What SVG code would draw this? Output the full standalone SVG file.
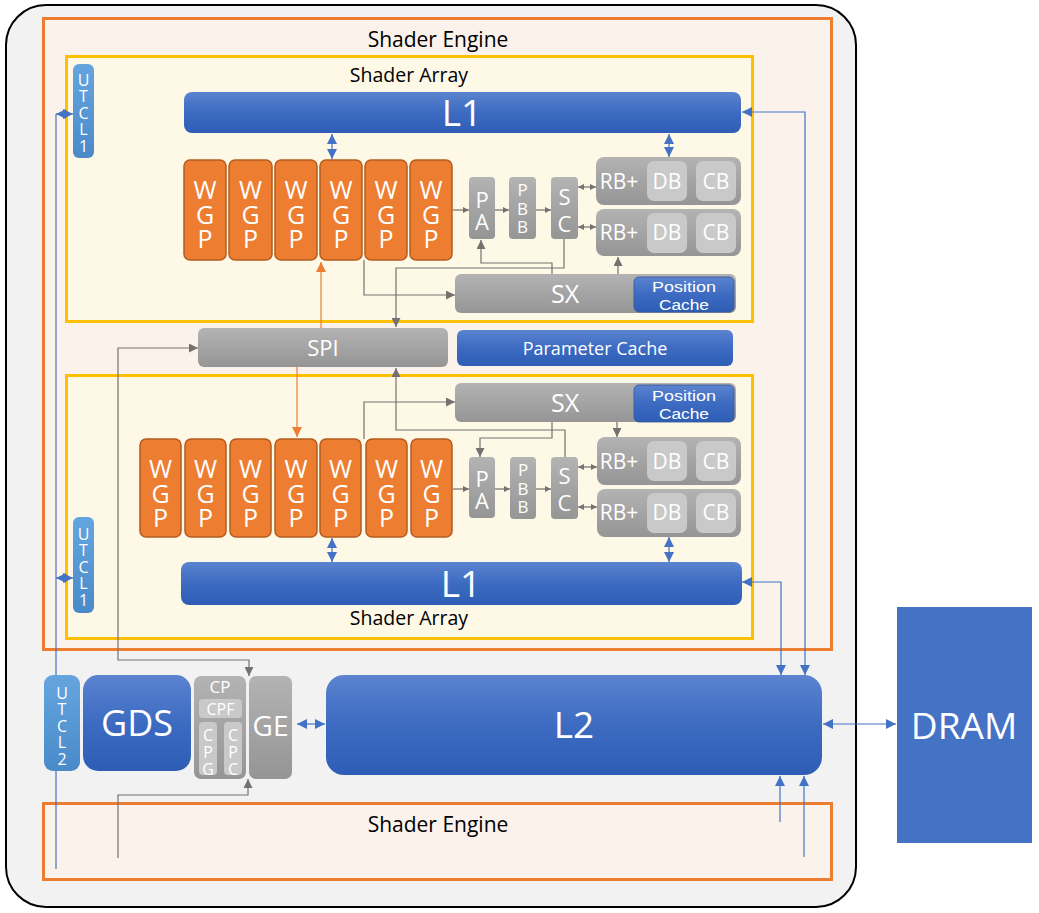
<svg xmlns="http://www.w3.org/2000/svg" width="1039" height="913" viewBox="0 0 1039 913">
<style>
text{font-family:"Open Sans","Noto Sans","Liberation Sans",sans-serif;text-anchor:middle}
.w{fill:#fff}
.k{fill:#000}
.v{writing-mode:vertical-rl;text-orientation:upright}
.blue{fill:url(#gBlue)}
.gray{fill:url(#gGray)}
.utcl{fill:url(#gUtcl)}
.wgp{fill:#ed7d31;stroke:#b35c1e;stroke-width:1.5}
.inner{fill:#c9c9c9}
.cg{fill:none;stroke:#767171;stroke-width:1.2}
.cb{fill:none;stroke:#4472c4;stroke-width:1.2}
.co{fill:none;stroke:#ed7d31;stroke-width:1.2}
.wg{font-size:25px;letter-spacing:-9.5px}
text.pc{font-family:"Liberation Sans",Arial,sans-serif;font-size:15.5px}
</style>
<defs>
<linearGradient id="gBlue" x1="0" y1="0" x2="0" y2="1"><stop offset="0" stop-color="#5b83cf"/><stop offset="0.5" stop-color="#3d6bc2"/><stop offset="1" stop-color="#2e5db5"/></linearGradient>
<linearGradient id="gGray" x1="0" y1="0" x2="0" y2="1"><stop offset="0" stop-color="#b3b3b3"/><stop offset="1" stop-color="#959595"/></linearGradient>
<linearGradient id="gUtcl" x1="0" y1="0" x2="0" y2="1"><stop offset="0" stop-color="#65a5df"/><stop offset="1" stop-color="#4a8ac9"/></linearGradient>
<marker id="ag" viewBox="0 0 10 10" refX="10" refY="5" markerWidth="9" markerHeight="9" markerUnits="userSpaceOnUse" orient="auto-start-reverse"><path d="M0,0 L10,5 L0,10 z" fill="#767171"/></marker>
<marker id="ags" viewBox="0 0 10 10" refX="10" refY="5" markerWidth="6" markerHeight="6" markerUnits="userSpaceOnUse" orient="auto-start-reverse"><path d="M0,0 L10,5 L0,10 z" fill="#767171"/></marker>
<marker id="ab" viewBox="0 0 10 10" refX="10" refY="5" markerWidth="10" markerHeight="10" markerUnits="userSpaceOnUse" orient="auto-start-reverse"><path d="M0,0 L10,5 L0,10 z" fill="#4472c4"/></marker>
<marker id="ao" viewBox="0 0 10 10" refX="10" refY="5" markerWidth="10" markerHeight="10" markerUnits="userSpaceOnUse" orient="auto-start-reverse"><path d="M0,0 L10,5 L0,10 z" fill="#ed7d31"/></marker>
</defs>

<g id="background">
<rect x="6" y="5" width="850" height="902" rx="40" fill="#f2f2f2" stroke="#000" stroke-width="2"/>
</g>

<g id="shader-engine-top">
<rect x="43.5" y="18.5" width="788" height="631" fill="#fbf2ec" stroke="#ed7d31" stroke-width="3"/>
<text x="438" y="47" font-size="21" class="k">Shader Engine</text>
</g>
<g id="shader-array-top">
<rect x="66.5" y="56.5" width="686" height="265" fill="#fef8e7" stroke="#ffc000" stroke-width="3"/>
<text x="409" y="82" font-size="19.5" class="k">Shader Array</text>
</g>
<g id="shader-array-bottom">
<rect x="66.5" y="375.5" width="686" height="263" fill="#fef8e7" stroke="#ffc000" stroke-width="3"/>
<text x="409" y="625" font-size="19.5" class="k">Shader Array</text>
</g>
<g id="shader-engine-bottom">
<rect x="43.5" y="803.5" width="788" height="76" fill="#fbf2ec" stroke="#ed7d31" stroke-width="3"/>
<text x="438" y="832" font-size="21" class="k">Shader Engine</text>
</g>

<g id="connectors">
<path class="cg" d="M453,210 H469" marker-end="url(#ags)"/>
<path class="cg" d="M495,210 H509" marker-end="url(#ags)"/>
<path class="cg" d="M536,210 H551" marker-end="url(#ags)"/>
<path class="cg" d="M578,187 H596" marker-start="url(#ags)" marker-end="url(#ags)"/>
<path class="cg" d="M578,227 H596" marker-start="url(#ags)" marker-end="url(#ags)"/>
<path class="cg" d="M552,274 V263 H481 V240" marker-end="url(#ag)"/>
<path class="cg" d="M564,239 V268 H396 V327" marker-end="url(#ag)"/>
<path class="cg" d="M364,260 V295 H455" marker-end="url(#ag)"/>
<path class="cg" d="M618,274 V257" marker-end="url(#ag)"/>
<path class="cg" d="M453,489 H469" marker-end="url(#ags)"/>
<path class="cg" d="M495,489 H510" marker-end="url(#ags)"/>
<path class="cg" d="M536,489 H551" marker-end="url(#ags)"/>
<path class="cg" d="M578,467 H597" marker-start="url(#ags)" marker-end="url(#ags)"/>
<path class="cg" d="M578,507 H597" marker-start="url(#ags)" marker-end="url(#ags)"/>
<path class="cg" d="M552,422 V438 H480 V457" marker-end="url(#ag)"/>
<path class="cg" d="M565,457 V430 H396 V368" marker-end="url(#ag)"/>
<path class="cg" d="M364,439 V402 H455" marker-end="url(#ag)"/>
<path class="cg" d="M617,422 V437" marker-end="url(#ag)"/>
<path class="cg" d="M198,348 H118 V660 H249 V676" marker-start="url(#ag)" marker-end="url(#ag)"/>
<path class="cg" d="M118,858 V795 H248 V779" marker-end="url(#ag)"/>
<path class="co" d="M321,328 V262" marker-end="url(#ao)"/>
<path class="co" d="M297,367 V437" marker-end="url(#ao)"/>
<path class="cb" d="M332,134 V159" marker-start="url(#ab)" marker-end="url(#ab)"/>
<path class="cb" d="M669,134 V157" marker-start="url(#ab)" marker-end="url(#ab)"/>
<path class="cb" d="M332,538 V562" marker-start="url(#ab)" marker-end="url(#ab)"/>
<path class="cb" d="M669,537 V562" marker-start="url(#ab)" marker-end="url(#ab)"/>
<path class="cb" d="M56,114 H73" marker-start="url(#ab)" marker-end="url(#ab)"/>
<path class="cb" d="M56,578 H73" marker-start="url(#ab)" marker-end="url(#ab)"/>
<path class="cb" d="M56,114 V869"/>
<path class="cb" d="M742,112 H805 V675" marker-start="url(#ab)" marker-end="url(#ab)"/>
<path class="cb" d="M742,582 H781 V675" marker-start="url(#ab)" marker-end="url(#ab)"/>
<path class="cb" d="M780,822 V776" marker-end="url(#ab)"/>
<path class="cb" d="M804,857 V776" marker-end="url(#ab)"/>
<path class="cb" d="M297,724 H325" marker-start="url(#ab)" marker-end="url(#ab)"/>
<path class="cb" d="M823,724 H896" marker-start="url(#ab)" marker-end="url(#ab)"/>
</g>

<g id="utcl1-top">
<rect x="73" y="64" width="21" height="94" rx="6" class="utcl"/>
<text x="83.5" y="110" class="w v" font-size="16" letter-spacing="-5.6">UTCL1</text>
</g>
<g id="l1-top">
<rect x="184" y="92" width="557" height="41" rx="8" class="blue"/>
<text x="462" y="126" font-size="37" class="w">L1</text>
</g>
<g id="wgp-top">
<rect x="184" y="160" width="42" height="100" rx="6" class="wgp"/>
<rect x="229" y="160" width="43" height="100" rx="6" class="wgp"/>
<rect x="275" y="160" width="42" height="100" rx="6" class="wgp"/>
<rect x="320" y="160" width="42" height="100" rx="6" class="wgp"/>
<rect x="365" y="160" width="42" height="100" rx="6" class="wgp"/>
<rect x="410" y="160" width="42" height="100" rx="6" class="wgp"/>
<text x="205" y="209" class="w v wg">WGP</text>
<text x="250.5" y="209" class="w v wg">WGP</text>
<text x="296" y="209" class="w v wg">WGP</text>
<text x="341" y="209" class="w v wg">WGP</text>
<text x="386" y="209" class="w v wg">WGP</text>
<text x="431" y="209" class="w v wg">WGP</text>
</g>
<g id="pa-top">
<rect x="469" y="177" width="26" height="62" rx="4" class="gray"/>
<text x="482" y="206" class="w v" font-size="22" letter-spacing="-7.5">PA</text>
</g>
<g id="pbb-top">
<rect x="509" y="177" width="27" height="62" rx="4" class="gray"/>
<text x="522.5" y="206" class="w v" font-size="17" letter-spacing="-4.2">PBB</text>
</g>
<g id="sc-top">
<rect x="551" y="177" width="27" height="62" rx="4" class="gray"/>
<text x="564.5" y="208" class="w v" font-size="22" letter-spacing="-3.3">SC</text>
</g>
<g id="rb-top-1">
<rect x="596" y="157" width="145" height="48" rx="8" class="gray"/>
<rect x="647" y="161" width="40" height="40" rx="7" class="inner"/>
<rect x="696" y="161" width="40" height="40" rx="7" class="inner"/>
<text x="619" y="189" font-size="21" class="w">RB+</text>
<text x="667" y="189" font-size="21" class="w">DB</text>
<text x="716" y="189" font-size="21" class="w">CB</text>
</g>
<g id="rb-top-2">
<rect x="596" y="209" width="145" height="47" rx="8" class="gray"/>
<rect x="647" y="213" width="40" height="40" rx="7" class="inner"/>
<rect x="696" y="213" width="40" height="40" rx="7" class="inner"/>
<text x="619" y="240" font-size="21" class="w">RB+</text>
<text x="667" y="240" font-size="21" class="w">DB</text>
<text x="716" y="240" font-size="21" class="w">CB</text>
</g>
<g id="sx-top">
<rect x="455" y="274" width="281" height="39" rx="6" class="gray"/>
<rect x="634" y="277" width="100" height="35" rx="5" class="blue" stroke="#2f5597" stroke-width="0.8"/>
<text x="565" y="303" font-size="25" class="w">SX</text>
<text x="684" y="292" class="w pc" textLength="64" lengthAdjust="spacingAndGlyphs">Position</text>
<text x="684" y="309.5" class="w pc" textLength="50" lengthAdjust="spacingAndGlyphs">Cache</text>
</g>

<g id="spi">
<rect x="198" y="328" width="250" height="39" rx="6" class="gray"/>
<text x="323" y="356" font-size="22" class="w">SPI</text>
</g>
<g id="parameter-cache">
<rect x="457" y="330" width="276" height="36" rx="6" class="blue"/>
<text x="595" y="355" font-size="18" class="w">Parameter Cache</text>
</g>

<g id="sx-bottom">
<rect x="455" y="383" width="281" height="39" rx="6" class="gray"/>
<rect x="634" y="385" width="100" height="37" rx="5" class="blue" stroke="#2f5597" stroke-width="0.8"/>
<text x="565" y="412" font-size="25" class="w">SX</text>
<text x="684" y="401" class="w pc" textLength="64" lengthAdjust="spacingAndGlyphs">Position</text>
<text x="684" y="418.5" class="w pc" textLength="50" lengthAdjust="spacingAndGlyphs">Cache</text>
</g>
<g id="wgp-bottom">
<rect x="140" y="439" width="41" height="98" rx="6" class="wgp"/>
<rect x="185" y="439" width="41" height="98" rx="6" class="wgp"/>
<rect x="230" y="439" width="41" height="98" rx="6" class="wgp"/>
<rect x="275" y="439" width="42" height="98" rx="6" class="wgp"/>
<rect x="320" y="439" width="41" height="98" rx="6" class="wgp"/>
<rect x="366" y="439" width="41" height="98" rx="6" class="wgp"/>
<rect x="411" y="439" width="41" height="98" rx="6" class="wgp"/>
<text x="160.5" y="488" class="w v wg">WGP</text>
<text x="205.5" y="488" class="w v wg">WGP</text>
<text x="250.5" y="488" class="w v wg">WGP</text>
<text x="296" y="488" class="w v wg">WGP</text>
<text x="340.5" y="488" class="w v wg">WGP</text>
<text x="386.5" y="488" class="w v wg">WGP</text>
<text x="431.5" y="488" class="w v wg">WGP</text>
</g>
<g id="pa-bottom">
<rect x="469" y="457" width="26" height="61" rx="4" class="gray"/>
<text x="482" y="485" class="w v" font-size="22" letter-spacing="-7.5">PA</text>
</g>
<g id="pbb-bottom">
<rect x="510" y="457" width="26" height="62" rx="4" class="gray"/>
<text x="523" y="486" class="w v" font-size="17" letter-spacing="-4.2">PBB</text>
</g>
<g id="sc-bottom">
<rect x="551" y="457" width="27" height="62" rx="4" class="gray"/>
<text x="564.5" y="487" class="w v" font-size="22" letter-spacing="-3.3">SC</text>
</g>
<g id="rb-bottom-1">
<rect x="597" y="437" width="144" height="48" rx="8" class="gray"/>
<rect x="647" y="441" width="40" height="40" rx="7" class="inner"/>
<rect x="696" y="441" width="40" height="40" rx="7" class="inner"/>
<text x="619" y="469" font-size="21" class="w">RB+</text>
<text x="667" y="469" font-size="21" class="w">DB</text>
<text x="716" y="469" font-size="21" class="w">CB</text>
</g>
<g id="rb-bottom-2">
<rect x="597" y="489" width="144" height="48" rx="8" class="gray"/>
<rect x="647" y="493" width="40" height="40" rx="7" class="inner"/>
<rect x="696" y="493" width="40" height="40" rx="7" class="inner"/>
<text x="619" y="520" font-size="21" class="w">RB+</text>
<text x="667" y="520" font-size="21" class="w">DB</text>
<text x="716" y="520" font-size="21" class="w">CB</text>
</g>
<g id="utcl1-bottom">
<rect x="73" y="517" width="21" height="96" rx="6" class="utcl"/>
<text x="83.5" y="564" class="w v" font-size="16" letter-spacing="-5.6">UTCL1</text>
</g>
<g id="l1-bottom">
<rect x="181" y="562" width="561" height="43" rx="8" class="blue"/>
<text x="461" y="597" font-size="37" class="w">L1</text>
</g>

<g id="utcl2">
<rect x="44" y="675" width="36" height="96" rx="9" class="utcl"/>
<text x="62" y="723" class="w v" font-size="16" letter-spacing="-5.6">UTCL2</text>
</g>
<g id="gds">
<rect x="83" y="675" width="108" height="96" rx="15" class="blue"/>
<text x="137" y="736" font-size="36" class="w">GDS</text>
</g>
<g id="cp">
<rect x="194" y="676" width="52" height="103" rx="7" class="gray"/>
<rect x="199" y="699" width="43" height="19" rx="4" class="inner"/>
<rect x="199" y="722" width="18" height="53" rx="4" class="inner"/>
<rect x="224" y="722" width="18" height="53" rx="4" class="inner"/>
<text x="220" y="693" font-size="17" class="w">CP</text>
<text x="220.5" y="715" font-size="16" class="w">CPF</text>
<text x="208" y="749.5" class="w v" font-size="16" letter-spacing="-5.3">CPG</text>
<text x="233" y="749.5" class="w v" font-size="16" letter-spacing="-5.3">CPC</text>
</g>
<g id="ge">
<rect x="249" y="676" width="43" height="103" rx="7" class="gray"/>
<text x="270.5" y="736" font-size="28" class="w">GE</text>
</g>
<g id="l2">
<rect x="326" y="675" width="496" height="100" rx="18" class="blue"/>
<text x="574" y="738" font-size="37" class="w">L2</text>
</g>
<g id="dram">
<rect x="897" y="607" width="135" height="236" fill="#4472c4"/>
<text x="964" y="739" font-size="37" class="w">DRAM</text>
</g>
</svg>
